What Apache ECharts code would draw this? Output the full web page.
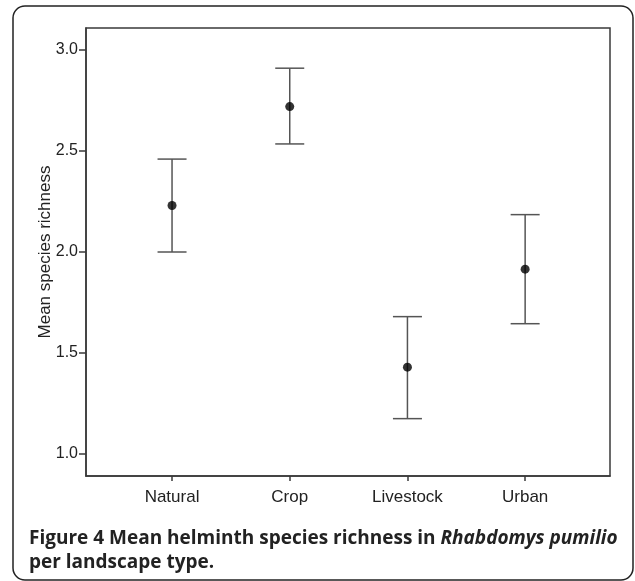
<!DOCTYPE html>
<html>
<head>
<meta charset="utf-8">
<script src="https://cdn.jsdelivr.net/npm/echarts@6/dist/echarts.min.js"></script>
<style>
  html, body { margin: 0; padding: 0; background: #fff; }
  #chart { width: 635px; height: 581px; }
</style>
</head>
<body>
<div id="chart"></div>
<script>
  // landscape types and mean richness with error bar ends
  const categories = ['Natural', 'Crop', 'Livestock', 'Urban'];
  const means = [2.23, 2.72, 1.43, 1.915];
  const lower = [2.0, 2.535, 1.175, 1.645];
  const upper = [2.46, 2.91, 1.68, 2.185];
  const yTicks = [1.0, 1.5, 2.0, 2.5, 3.0];

  const chart = echarts.init(document.getElementById('chart'));

  const xIdx = categories.map((c, i) => i);

  const option = {
    animation: false,
    grid: {
      left: 86, top: 28, right: 25, bottom: 105,
      show: true, borderColor: '#3a3a3a', borderWidth: 1.5
    },
    xAxis: {
      type: 'value',
      min: -0.731, max: 3.721,
      splitLine: { show: false },
      axisLine: { show: true, onZero: false, lineStyle: { color: '#3a3a3a', width: 1.5 } },
      axisTick: { show: true, customValues: xIdx, length: 5, lineStyle: { color: '#3a3a3a', width: 1.5 } },
      axisLabel: {
        customValues: xIdx,
        formatter: v => categories[Math.round(v)],
        color: '#222', fontFamily: 'Liberation Sans, Arial', fontSize: 17, margin: 13
      }
    },
    yAxis: {
      type: 'value',
      min: 0.891, max: 3.109,
      name: 'Mean species richness',
      nameLocation: 'middle',
      nameGap: 32,
      nameMoveOverlap: false,
      nameTextStyle: { color: '#222', fontFamily: 'Liberation Sans, Arial', fontSize: 17 },
      splitLine: { show: false },
      axisLine: { show: true, onZero: false, lineStyle: { color: '#3a3a3a', width: 1.5 } },
      axisTick: { show: true, customValues: yTicks, length: 7, lineStyle: { color: '#3a3a3a', width: 1.5 } },
      axisLabel: {
        customValues: yTicks,
        formatter: v => v.toFixed(1),
        color: '#222', fontFamily: 'Liberation Sans, Arial', fontSize: 16, margin: 8
      }
    },
    series: [
      {
        type: 'custom',
        data: xIdx.map(i => [i, lower[i], upper[i]]),
        renderItem: function (params, api) {
          const lo = api.coord([api.value(0), api.value(1)]);
          const hi = api.coord([api.value(0), api.value(2)]);
          const half = 14.5;
          const style = { stroke: '#555', lineWidth: 1.5 };
          return {
            type: 'group',
            children: [
              { type: 'line', shape: { x1: lo[0], y1: lo[1], x2: hi[0], y2: hi[1] }, style: style },
              { type: 'line', shape: { x1: lo[0] - half, y1: lo[1], x2: lo[0] + half, y2: lo[1] }, style: style },
              { type: 'line', shape: { x1: hi[0] - half, y1: hi[1], x2: hi[0] + half, y2: hi[1] }, style: style }
            ]
          };
        },
        z: 2
      },
      {
        type: 'scatter',
        data: xIdx.map(i => [i, means[i]]),
        symbol: 'circle',
        symbolSize: 9,
        itemStyle: { color: '#000' },
        z: 3
      }
    ],
    graphic: [
      {
        type: 'rect',
        shape: { x: 13, y: 6, width: 620, height: 574, r: 12 },
        style: { fill: 'none', stroke: '#222', lineWidth: 1.5 },
        z: -1
      },
      {
        type: 'text',
        left: 29, top: 527,
        style: {
          text: '{b|Figure 4 Mean helminth species richness in }{i|Rhabdomys pumilio}\n{b|per landscape type.}',
          lineHeight: 24,
          rich: {
            b: { fontFamily: 'Open Sans', fontWeight: 'bold', fontSize: 19, fill: '#222', lineHeight: 24 },
            i: { fontFamily: 'Open Sans', fontWeight: 'bold', fontStyle: 'italic', fontSize: 19, fill: '#222', lineHeight: 24 }
          }
        }
      }
    ]
  };

  chart.setOption(option);
</script>
</body>
</html>
